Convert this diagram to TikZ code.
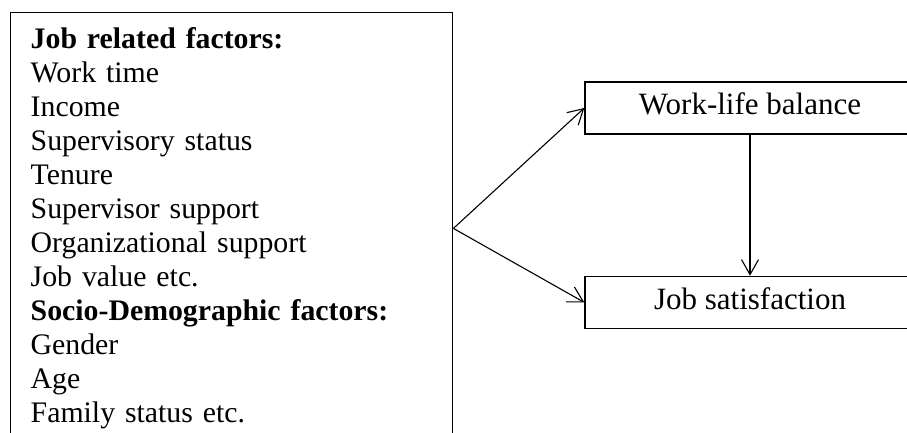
\documentclass[tikz,border=0pt]{standalone}
\usepackage{fontspec}
\setmainfont{Liberation Serif}
\usepackage{tikz}
\usetikzlibrary{arrows.meta,positioning}

\begin{document}
\begin{tikzpicture}[
    x=1pt, y=-1pt,
    listbox/.style={rectangle, draw, line width=1.4pt, text width=402pt, align=left, inner xsep=20pt, inner ysep=15pt, font=\fontsize{29.8}{34}\selectfont},
    factor/.style={rectangle, draw, line width=1.4pt, minimum width=330pt, minimum height=52pt, inner sep=0pt, text height=21pt, text depth=7pt, font=\fontsize{31}{34}\selectfont},
    arrow/.style={-{Straight Barb[length=15pt,width=17pt]}, line width=1.1pt}
]
\clip (0,0) rectangle (907,433);

% Left box: factors
\node[listbox, anchor=north west] (factors) at (10,12) {\textbf{Job related factors:}\\Work time\\Income\\Supervisory status\\Tenure\\Supervisor support\\Organizational support\\Job value etc.\\\textbf{Socio-Demographic factors:}\\Gender\\Age\\Family status etc.};

% Right boxes
\node[factor] (wlb) at (750,108) {Work-life balance};
\node[factor, below=141pt of wlb] (jobsat) {Job satisfaction};

% Arrows
\draw[arrow] (factors.east) -- (wlb.west);
\draw[arrow] (factors.east) -- (jobsat.west);
\draw[arrow] (wlb) -- (jobsat);

\end{tikzpicture}
\end{document}
